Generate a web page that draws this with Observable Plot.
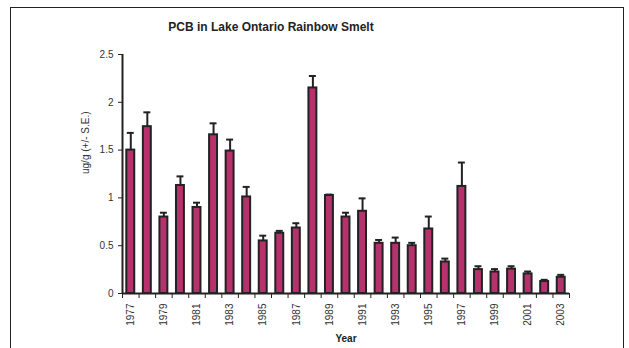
<!DOCTYPE html>
<html>
<head>
<meta charset="utf-8">
<script src="https://cdn.jsdelivr.net/npm/d3@7"></script>
<script src="https://cdn.jsdelivr.net/npm/@observablehq/plot@0.6"></script>
<style>
  html, body { margin: 0; padding: 0; background: #fff; }
  #wrap { position: relative; width: 629px; height: 348px; overflow: hidden; }
  #border { position: absolute; left: 10px; top: 7px; width: 612px; height: 360px; border: 1.5px solid #222; pointer-events: none; }
</style>
</head>
<body>
<div id="wrap"><div id="border"></div></div>
<script>
const years = [1977,1978,1979,1980,1981,1982,1983,1984,1985,1986,1987,1988,1989,1990,1991,1992,1993,1994,1995,1996,1997,1998,1999,2000,2001,2002,2003];
const values = [1.50,1.745,0.80,1.13,0.90,1.66,1.49,1.01,0.55,0.63,0.685,2.15,1.025,0.80,0.86,0.525,0.525,0.50,0.675,0.33,1.12,0.25,0.225,0.255,0.205,0.125,0.17];
const errors = [0.18,0.15,0.045,0.095,0.05,0.12,0.12,0.105,0.055,0.025,0.05,0.125,0.01,0.045,0.135,0.035,0.06,0.03,0.13,0.035,0.25,0.035,0.03,0.03,0.025,0.018,0.025];
const yTicks = [0,0.5,1,1.5,2,2.5];
const xLabelYears = [1977,1979,1981,1983,1985,1987,1989,1991,1993,1995,1997,1999,2001,2003];
const title = "PCB in Lake Ontario Rainbow Smelt";
const xTitle = "Year";
const yTitle = "ug/g (+/- S.E.)";

const data = years.map((year, i) => ({year, value: values[i], err: errors[i]}));
const boundaries = [...years.map(y => y - 0.5), years[years.length - 1] + 0.5];

const font = "'Liberation Sans', Arial, sans-serif";
const ink = "#222";

const chart = Plot.plot({
  width: 629,
  height: 348,
  marginLeft: 122,
  marginRight: 60,
  marginTop: 54,
  marginBottom: 55,
  style: {fontFamily: font, background: "transparent"},
  x: {type: "linear", domain: [boundaries[0], boundaries[boundaries.length - 1]], axis: null, label: null},
  y: {domain: [0, 2.5], axis: null, label: null},
  marks: [
    Plot.axisY({ticks: yTicks, label: null, tickSize: 4, tickPadding: 5, tickFormat: d => String(d), fontSize: 10, fill: "#333", stroke: ink}),
    Plot.axisX({ticks: boundaries, label: null, tickSize: 5, text: null, stroke: ink}),
    Plot.axisX({ticks: xLabelYears, label: null, tickSize: 0, tickPadding: 10, tickRotate: -90, tickFormat: d => String(d), fontSize: 10, fill: "#333"}),
    Plot.rectY(data, {x1: d => d.year - 0.24, x2: d => d.year + 0.24, y1: 0, y2: "value", fill: "#b5326d", stroke: ink, strokeWidth: 2}),
    Plot.ruleX(data, {x: "year", y1: "value", y2: d => d.value + d.err, stroke: ink, strokeWidth: 2}),
    Plot.ruleY(data, {y: d => d.value + d.err, x1: d => d.year - 0.21, x2: d => d.year + 0.21, stroke: ink, strokeWidth: 2}),
    Plot.ruleY([0], {stroke: ink, strokeWidth: 2}),
    Plot.ruleX([boundaries[0]], {stroke: ink, strokeWidth: 2}),
    Plot.text([title], {frameAnchor: "top", dx: -75, dy: -32, fontSize: 12, fontWeight: "bold", fill: "#222"}),
    Plot.text([xTitle], {frameAnchor: "bottom", dy: 48, fontSize: 10, fontWeight: "bold", fill: "#222"}),
    Plot.text([yTitle], {frameAnchor: "left", dx: -37, rotate: -90, fontSize: 10, fill: "#333"})
  ]
});
document.getElementById("wrap").prepend(chart);
</script>
</body>
</html>
